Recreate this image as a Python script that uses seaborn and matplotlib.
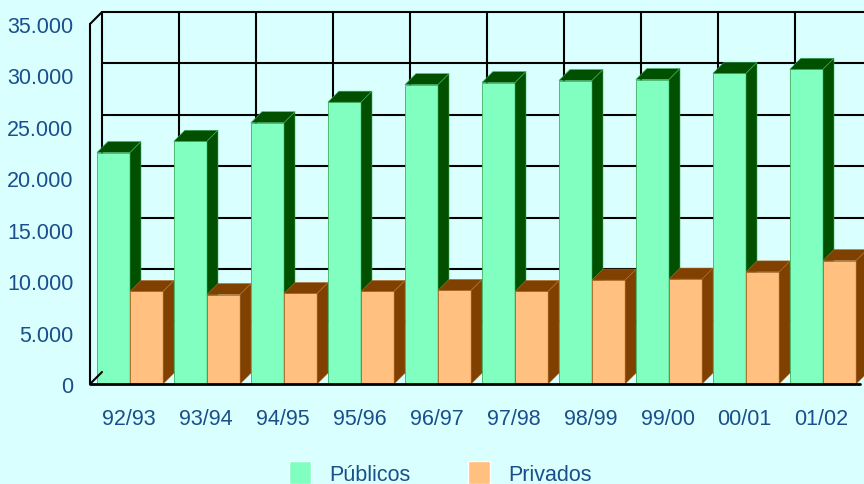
import pandas as pd
import matplotlib.pyplot as plt
import matplotlib.transforms as mtransforms
from matplotlib.patches import Polygon, Patch, ConnectionPatch
from matplotlib.ticker import FuncFormatter
import seaborn as sns

cursos = ["92/93", "93/94", "94/95", "95/96", "96/97",
          "97/98", "98/99", "99/00", "00/01", "01/02"]
publicos = [22500, 23600, 25400, 27400, 29100, 29300, 29500, 29600, 30200, 30600]
privados = [9000, 8700, 8800, 9000, 9100, 9000, 10100, 10200, 10900, 12000]
series = ["Públicos", "Privados"]

BG = "#d9ffff"
TXT = "#1a4f8b"
FRONT = ["#80ffc0", "#ffc080"]
DARK = ["#005000", "#804000"]
EDGE = ["#40b060", "#b07030"]
DEPTH = 11  # pixels


def fmt_miles(v, pos):
    return f"{int(v):,}".replace(",", ".")


def add_depth(ax, fig):
    # sides and tops of the bars, built from the bars seaborn drew
    ax_w = ax.get_position().width * fig.get_figwidth() * fig.dpi
    ax_h = ax.get_position().height * fig.get_figheight() * fig.dpi
    x0l, x1l = ax.get_xlim()
    y0l, y1l = ax.get_ylim()
    dx = DEPTH * (x1l - x0l) / ax_w
    dy = DEPTH * (y1l - y0l) / ax_h
    shift = 1.5 * (x1l - x0l) / ax_w
    for j, cont in enumerate(ax.containers):
        for i, bar in enumerate(cont.patches):
            z = 3 + i * 2 + j
            bar.set_x(bar.get_x() + shift)
            x0, w, h = bar.get_x(), bar.get_width(), bar.get_height()
            bar.set_zorder(z)
            bar.set_edgecolor(EDGE[j])
            bar.set_linewidth(0.6)
            top = [(x0, h), (x0 + w, h), (x0 + w + dx, h + dy), (x0 + dx, h + dy)]
            side = [(x0 + w, 0), (x0 + w, h), (x0 + w + dx, h + dy), (x0 + w + dx, dy)]
            for pts in (top, side):
                ax.add_patch(Polygon(pts, closed=True, facecolor=DARK[j],
                                     edgecolor=EDGE[j], linewidth=0.4,
                                     zorder=z, clip_on=False))


def main():
    sns.set_theme(style="white")
    plt.rcParams["font.family"] = ["Liberation Sans", "DejaVu Sans"]

    df = pd.DataFrame({
        "curso": cursos * 2,
        "valor": publicos + privados,
        "tipo": [series[0]] * len(cursos) + [series[1]] * len(cursos),
    })

    fig = plt.figure(figsize=(8.64, 4.85), dpi=100, facecolor=BG)
    ax = fig.add_axes([90 / 864, 100 / 485, 770 / 864, 360 / 485])
    ax.set_facecolor("none")

    sns.barplot(data=df, x="curso", y="valor", hue="tipo", palette=FRONT,
                width=0.86, saturation=1, legend=False, ax=ax)
    ax.set_xlim(-0.5, len(cursos) - 0.5)
    ax.set_ylim(0, 35000)

    # back wall grid
    back = mtransforms.offset_copy(ax.transData, fig=fig, x=DEPTH + 1,
                                   y=DEPTH + 1, units="dots")
    for v in range(0, 35001, 5000):
        ax.plot([-0.5, len(cursos) - 0.5], [v, v], transform=back,
                color="black", lw=1.5, clip_on=False, zorder=1)
    for k in range(len(cursos) + 1):
        ax.plot([k - 0.5, k - 0.5], [0, 35000], transform=back,
                color="black", lw=1.5, clip_on=False, zorder=1)

    # front frame: left wall edge and floor edge
    ax.plot([-0.5, -0.5], [0, 35000], color="black", lw=1.5,
            clip_on=False, zorder=30)
    ax.plot([-0.5, len(cursos) - 0.5], [0, 0], color="black", lw=2,
            clip_on=False, zorder=30)
    for yv in (0, 35000):
        con = ConnectionPatch((-0.5, yv), (-0.5, yv), coordsA=ax.transData,
                              coordsB=back, color="black", lw=1.5, zorder=2)
        fig.add_artist(con)

    add_depth(ax, fig)

    sns.despine(ax=ax, left=True, bottom=True)
    ax.yaxis.set_major_formatter(FuncFormatter(fmt_miles))
    ax.set_yticks(range(0, 35001, 5000))
    ax.tick_params(axis="y", length=0, pad=12, labelsize=15.5, labelcolor=TXT)
    ax.tick_params(axis="x", length=0, pad=17, labelsize=15.5, labelcolor=TXT)
    ax.set_xlabel("")
    ax.set_ylabel("")

    handles = [Patch(facecolor=FRONT[0]), Patch(facecolor=FRONT[1])]
    fig.legend(handles, series, ncol=2, loc="upper left",
               bbox_to_anchor=(289 / 864, 1 - 462 / 485), frameon=False,
               fontsize=15.5, labelcolor=TXT, handlelength=1.0, handleheight=1.3,
               handletextpad=0.85, columnspacing=2.7, borderpad=0,
               borderaxespad=0)

    fig.savefig("out.png", dpi=100, facecolor=BG)
    plt.close(fig)


if __name__ == "__main__":
    main()
